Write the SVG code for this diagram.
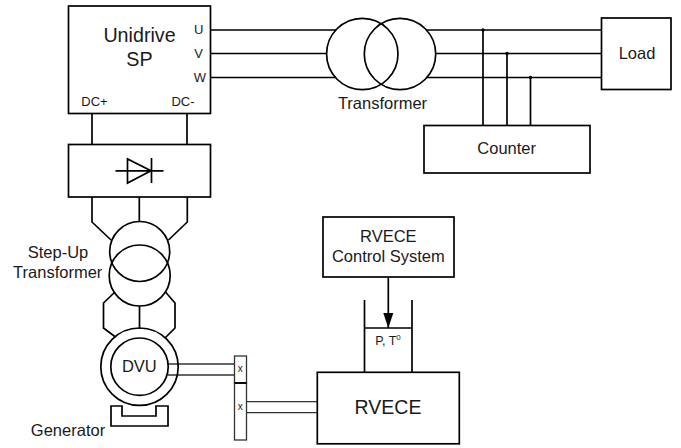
<svg xmlns="http://www.w3.org/2000/svg" width="681" height="448" viewBox="0 0 681 448">
<style>
.s{fill:none;stroke:#000;stroke-width:1.7}
.g{fill:none;stroke:#333;stroke-width:1.3}
text{font-family:"Liberation Sans",Arial,sans-serif;fill:#1a1a1a;text-anchor:middle}
.l{font-size:19.700px}.m{font-size:16.500px}.n{font-size:13px}.x{font-size:10px}
</style>
<defs><marker id="a" markerWidth="16" markerHeight="12" refX="15" refY="5.500" orient="auto" markerUnits="userSpaceOnUse"><path d="M0 0.500L15 5.500L0 10.500Z" fill="#000"/></marker></defs>
<rect width="681" height="448" fill="#fff"/>
<g id="connectors">
<path class="s" d="M210.500 30H336M210.500 53.500H326.500M210.500 77.500H335.500M426.500 30H602M435.700 53.500H602M426.500 77.500H602"/>
<path class="s" d="M483 30V125.500M507 53.500V125.500M530.500 77.500V125.500"/>
<path class="s" d="M92 113.500V144.500M187 113.500V144.500"/>
<path class="s" d="M92 197V222L111 240M187.300 197V222L168.500 240M139.300 197V221"/>
<path class="s" d="M115 292L103.500 303V328L115.500 337M165.500 292L175 303V328L165 338M139.500 306V329"/>
<path class="g" d="M168 364H234.500M168 375H234.500M246.500 401.700H317M246.500 412.700H317"/>
<path class="s" d="M388.300 277V328" marker-end="url(#a)"/>
<circle cx="483" cy="30" r="1.700"/><circle cx="507" cy="53.500" r="1.700"/><circle cx="530.500" cy="77.500" r="1.700"/>
</g>
<g id="unidrive"><rect class="s" x="68.500" y="6" width="142" height="107.500"/>
<text class="l" x="139.500" y="42">Unidrive</text><text class="l" x="139.500" y="66">SP</text>
<text class="n" x="198.700" y="34">U</text><text class="n" x="198.700" y="58">V</text><text class="n" x="200" y="82">W</text>
<text class="n" x="94.500" y="106">DC+</text><text class="n" x="183" y="106">DC-</text></g>
<g id="rectifier"><rect class="s" x="68.500" y="144.500" width="142" height="52.500"/>
<path class="s" d="M115.500 170.800H163.500M127.500 159V183L151 170.800ZM151.500 158V183"/></g>
<g id="transformer"><circle class="s" cx="362.300" cy="54" r="35.700"/><circle class="s" cx="400" cy="54" r="35.700"/>
<text class="m" x="382.500" y="109">Transformer</text></g>
<g id="load"><rect class="s" x="601.500" y="18" width="69.500" height="71.500"/><text class="m" x="637" y="59">Load</text></g>
<g id="counter"><rect class="s" x="424" y="125.500" width="166" height="47.500"/><text class="m" x="506.700" y="154">Counter</text></g>
<g id="step-up"><circle class="s" cx="139.700" cy="251.500" r="30"/><circle class="s" cx="139.700" cy="275.500" r="30.500"/>
<text class="m" x="58" y="258">Step-Up</text><text class="m" x="57.700" y="278">Transformer</text></g>
<g id="dvu"><circle class="s" cx="139.500" cy="366.700" r="38.700"/><circle class="s" cx="139.500" cy="366.700" r="28.700"/><text class="m" x="139.300" y="372">DVU</text></g>
<g id="generator"><path class="s" d="M111 406H122V416H156V406H168V426H111Z"/><text class="m" x="68" y="436">Generator</text></g>
<g id="switch"><rect class="g" x="234.500" y="356" width="12" height="27"/><rect class="g" x="234.500" y="383" width="12" height="57"/><path class="s" d="M234.500 383H246.500"/>
<text class="x" x="240.300" y="372">x</text><text class="x" x="240.300" y="410">x</text></g>
<g id="control"><rect class="s" x="323" y="217" width="131" height="60"/><text class="m" x="388.300" y="241.500">RVECE</text><text class="m" x="388.300" y="262">Control System</text></g>
<g id="piston"><path class="s" d="M364.500 300V372M412 300V372M364.500 328H412"/><text font-size="12.500" x="388" y="345">P, T<tspan font-size="8" dy="-5">0</tspan></text></g>
<g id="rvece"><rect class="s" x="317.300" y="372.300" width="142" height="71.500"/><text font-size="19.500" x="388" y="414">RVECE</text></g>
</svg>
